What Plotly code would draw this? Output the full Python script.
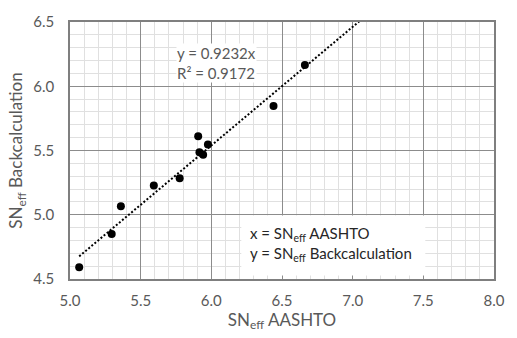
import plotly.graph_objects as go

# SN_eff values: AASHTO method (x) vs. backcalculated (y)
sn_aashto = [5.065, 5.295, 5.36, 5.593, 5.776, 5.907, 5.916, 5.942, 5.976, 6.44, 6.662]
sn_backcalc = [4.592, 4.851, 5.066, 5.228, 5.284, 5.611, 5.486, 5.466, 5.547, 5.847, 6.166]

# Linear trendline through the origin
slope = 0.9232
r_squared = 0.9172
trend_x = [min(sn_aashto), 7.2]
trend_y = [slope * v for v in trend_x]

x_ticks = [5.0, 5.5, 6.0, 6.5, 7.0, 7.5, 8.0]
y_ticks = [4.5, 5.0, 5.5, 6.0, 6.5]

FONT = "Lato"
GRAY = "#595959"

fig = go.Figure()
fig.add_trace(go.Scatter(
    x=trend_x, y=trend_y, mode="lines",
    line=dict(color="black", width=2, dash="2px,2px"),
    hoverinfo="skip", showlegend=False,
))
fig.add_trace(go.Scatter(
    x=sn_aashto, y=sn_backcalc, mode="markers",
    marker=dict(color="black", size=8),
    showlegend=False,
))

axis_common = dict(
    showgrid=True, gridcolor="#8c8c8c", gridwidth=1,
    showline=True, linecolor="#7f7f7f", linewidth=1.5, mirror=True,
    zeroline=False, ticks="",
    tickfont=dict(family=FONT, size=15, color=GRAY),
    minor=dict(dtick=0.1, showgrid=True, gridcolor="#e0e0e0", gridwidth=1),
)

fig.update_xaxes(
    range=[5.0, 8.0], tickvals=x_ticks, ticktext=[f"{v:.1f}" for v in x_ticks],
    ticklabelstandoff=7,
    title=dict(text="SN<sub>eff</sub> AASHTO", font=dict(family=FONT, size=17, color=GRAY),
               standoff=5),
    **axis_common,
)
fig.update_yaxes(
    range=[4.5, 6.5], tickvals=y_ticks, ticktext=[f"{v:.1f}" for v in y_ticks],
    ticklabelstandoff=11,
    title=dict(text="SN<sub>eff</sub> Backcalculation", font=dict(family=FONT, size=17, color=GRAY),
               standoff=6),
    **axis_common,
)

# Trendline equation label
fig.add_annotation(
    x=6.035, y=6.179, xref="x", yref="y",
    text=f"y = {slope}x<br>R² = {r_squared}",
    showarrow=False, align="left", xanchor="center", yanchor="middle",
    font=dict(family=FONT, size=15, color=GRAY),
    bgcolor="white", borderpad=0,
)

# Variable definitions box
fig.add_shape(
    type="rect", xref="x", yref="y",
    x0=6.212, x1=7.514, y0=4.527, y1=4.995,
    fillcolor="white", line=dict(width=0), layer="above",
)
for yy, txt in [(4.853, "x = SN<sub>eff</sub> AASHTO"),
                (4.693, "y = SN<sub>eff</sub> Backcalculation")]:
    fig.add_annotation(
        x=6.26, y=yy, xref="x", yref="y", text=txt,
        showarrow=False, xanchor="left", yanchor="middle",
        font=dict(family=FONT, size=15, color="#262626"),
    )

fig.update_layout(
    width=517, height=338,
    margin=dict(l=70, r=12, t=17, b=57),
    paper_bgcolor="white", plot_bgcolor="white",
)

fig.write_html("out.html")
